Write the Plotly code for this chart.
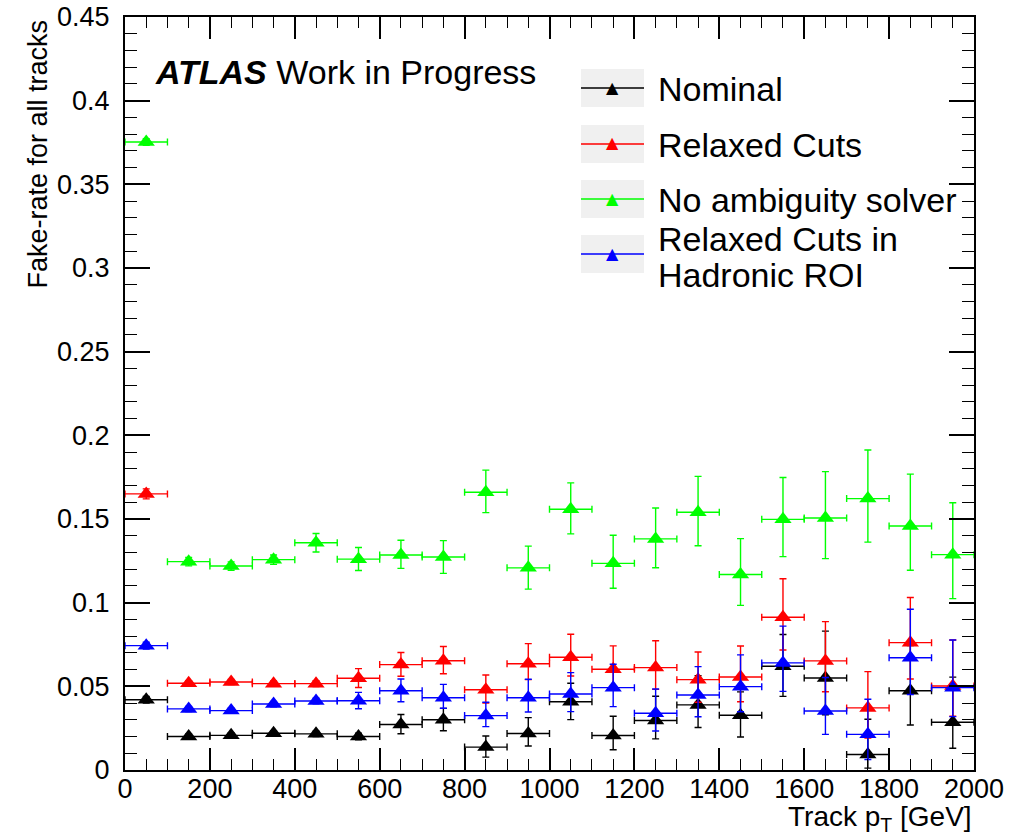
import plotly.graph_objects as go

# ---------------- data ----------------
pt = [50, 150, 250, 350, 450, 550, 650, 750, 850, 950,
      1050, 1150, 1250, 1350, 1450, 1550, 1650, 1750, 1850, 1950]
bin_half_width = 50

nominal = [0.042, 0.020, 0.0207, 0.022, 0.0216, 0.020, 0.0272, 0.030, 0.0137, 0.0218,
           0.0408, 0.0206, 0.0296, 0.0389, 0.0327, 0.0620, 0.0550, 0.0093, 0.0474, 0.0285]
nominal_up = [0.002, 0.0015, 0.0015, 0.0015, 0.0016, 0.002, 0.006, 0.0068, 0.0066, 0.0095,
              0.011, 0.0115, 0.0145, 0.0175, 0.014, 0.019, 0.028, 0.021, 0.027, 0.027]
nominal_down = [0.002, 0.0015, 0.0015, 0.0015, 0.0016, 0.002, 0.0055, 0.0065, 0.006, 0.0075,
                0.0107, 0.0085, 0.011, 0.0135, 0.013, 0.018, 0.022, 0.0082, 0.0205, 0.0155]

relaxed = [0.165, 0.0518, 0.0526, 0.0516, 0.0516, 0.0548, 0.063, 0.0653, 0.048, 0.0635,
           0.0674, 0.0602, 0.0612, 0.054, 0.0556, 0.0913, 0.0652, 0.0371, 0.0761, 0.0502]
relaxed_up = [0.003, 0.0015, 0.0015, 0.0016, 0.0017, 0.0058, 0.0072, 0.0085, 0.0088, 0.012,
              0.0137, 0.014, 0.016, 0.0165, 0.0185, 0.023, 0.0235, 0.0217, 0.027, 0.0275]
relaxed_down = [0.003, 0.0015, 0.0015, 0.0016, 0.0017, 0.0055, 0.007, 0.0078, 0.008, 0.0095,
                0.0112, 0.012, 0.013, 0.0135, 0.0148, 0.0196, 0.0184, 0.018, 0.0217, 0.018]

noamb = [0.3753, 0.1245, 0.1219, 0.1257, 0.1358, 0.126, 0.1285, 0.1273, 0.166, 0.1208,
         0.1558, 0.1235, 0.1381, 0.154, 0.1168, 0.1498, 0.1506, 0.1622, 0.1458, 0.1287]
noamb_up = [0.002, 0.0025, 0.0025, 0.0028, 0.0055, 0.007, 0.0088, 0.0098, 0.0132, 0.013,
            0.0158, 0.0168, 0.0185, 0.0215, 0.0215, 0.025, 0.0277, 0.029, 0.031, 0.031]
noamb_down = [0.002, 0.0025, 0.0025, 0.0028, 0.0055, 0.0068, 0.008, 0.0098, 0.0122, 0.0127,
              0.0147, 0.0149, 0.0172, 0.02, 0.0184, 0.0223, 0.0243, 0.026, 0.0264, 0.0263]

hadronic = [0.0743, 0.0365, 0.0355, 0.0394, 0.0412, 0.0414, 0.0474, 0.0432, 0.0325, 0.0432,
            0.0454, 0.0492, 0.0339, 0.0448, 0.0498, 0.064, 0.0353, 0.0213, 0.0671, 0.0492]
hadronic_up = [0.002, 0.0015, 0.0015, 0.0016, 0.0017, 0.005, 0.007, 0.008, 0.008, 0.011,
               0.0128, 0.014, 0.0145, 0.017, 0.019, 0.022, 0.02, 0.021, 0.029, 0.0285]
hadronic_down = [0.002, 0.0015, 0.0015, 0.0016, 0.0017, 0.0048, 0.0066, 0.0063, 0.0066, 0.0085,
                 0.0105, 0.0113, 0.0106, 0.013, 0.015, 0.017, 0.014, 0.015, 0.022, 0.0173]

series = [
    ("Nominal", nominal, nominal_up, nominal_down, "#000000"),
    ("Relaxed Cuts", relaxed, relaxed_up, relaxed_down, "#ff0000"),
    ("No ambiguity solver", noamb, noamb_up, noamb_down, "#00ff00"),
    ("Relaxed Cuts in Hadronic ROI", hadronic, hadronic_up, hadronic_down, "#0000ff"),
]

FONT = "Liberation Sans, Arial, Helvetica, sans-serif"

fig = go.Figure()
for name, vals, up, down, col in series:
    fig.add_trace(go.Scatter(
        x=pt, y=vals, mode="markers", name=name, showlegend=False,
        marker=dict(symbol="triangle-up", size=15, color=col, line=dict(width=0)),
        error_x=dict(type="constant", value=bin_half_width, color=col, thickness=1.4, width=3.5),
        error_y=dict(type="data", array=up, arrayminus=down, symmetric=False,
                     color=col, thickness=1.4, width=3.5),
    ))

# ---------------- layout ----------------
W, H = 1019, 839
L, R, T, B = 125, 45, 17, 69
PW, PH = W - L - R, H - T - B


def px(xp):
    return (xp - L) / PW


def py(yp):
    return (H - B - yp) / PH


axis_common = dict(
    showline=True, linecolor="black", linewidth=2, mirror="allticks",
    ticks="inside", tickcolor="black", tickwidth=1.5,
    showgrid=False, zeroline=False, automargin=False,
    tickfont=dict(family=FONT, size=27, color="black"),
)

fig.update_xaxes(range=[0, 2000], dtick=200, ticklen=22,
                 minor=dict(dtick=50, ticklen=11, ticks="inside", tickcolor="black", tickwidth=1.2),
                 ticklabelstandoff=-6, **axis_common)
fig.update_yaxes(range=[0, 0.45], dtick=0.05, ticklen=25,
                 minor=dict(dtick=0.01, ticklen=12, ticks="inside", tickcolor="black", tickwidth=1.2),
                 ticklabelstandoff=8, **axis_common)

annotations = [
    dict(text="Fake-rate for all tracks", textangle=-90, xref="paper", yref="paper",
         x=px(37), y=py(18), xanchor="center", yanchor="top", showarrow=False,
         font=dict(family=FONT, size=27, color="black")),
    dict(text="Track p<sub>T</sub> [GeV]", xref="paper", yref="paper",
         x=px(974), y=py(818), xanchor="right", yanchor="middle", showarrow=False,
         font=dict(family=FONT, size=28, color="black")),
    dict(text="<b><i>ATLAS</i></b> Work in Progress", xref="paper", yref="paper",
         x=px(153), y=py(72), xanchor="left", yanchor="middle", showarrow=False,
         font=dict(family=FONT, size=34, color="black")),
]

shapes = []
legend_rows = [  # (center y px, color, text lines)
    (88, "#000000", [("Nominal", 89)]),
    (144, "#ff0000", [("Relaxed Cuts", 145)]),
    (199, "#00ff00", [("No ambiguity solver", 200)]),
    (254, "#0000ff", [("Relaxed Cuts in", 239), ("Hadronic ROI", 275)]),
]
for cy, col, lines in legend_rows:
    shapes.append(dict(type="rect", xref="paper", yref="paper",
                       x0=px(581), x1=px(644), y0=py(cy + 19), y1=py(cy - 19),
                       fillcolor="#f0f0f0", line=dict(width=0), layer="above"))
    shapes.append(dict(type="line", xref="paper", yref="paper",
                       x0=px(581), x1=px(644), y0=py(cy), y1=py(cy),
                       line=dict(color=col, width=1.5), layer="above"))
    annotations.append(dict(text="▲", xref="paper", yref="paper",
                            x=px(612.5), y=py(cy - 1), xanchor="center", yanchor="middle",
                            showarrow=False,
                            font=dict(family="DejaVu Sans", size=16, color=col)))
    for txt, ty in lines:
        annotations.append(dict(text=txt, xref="paper", yref="paper",
                                x=px(656), y=py(ty), xanchor="left", yanchor="middle",
                                showarrow=False,
                                font=dict(family=FONT, size=34, color="black")))

fig.update_layout(
    width=W, height=H,
    margin=dict(l=L, r=R, t=T, b=B, pad=0, autoexpand=False),
    paper_bgcolor="white", plot_bgcolor="white",
    showlegend=False,
    annotations=annotations, shapes=shapes,
    font=dict(family=FONT, color="black"),
)

fig.write_html("out.html")
